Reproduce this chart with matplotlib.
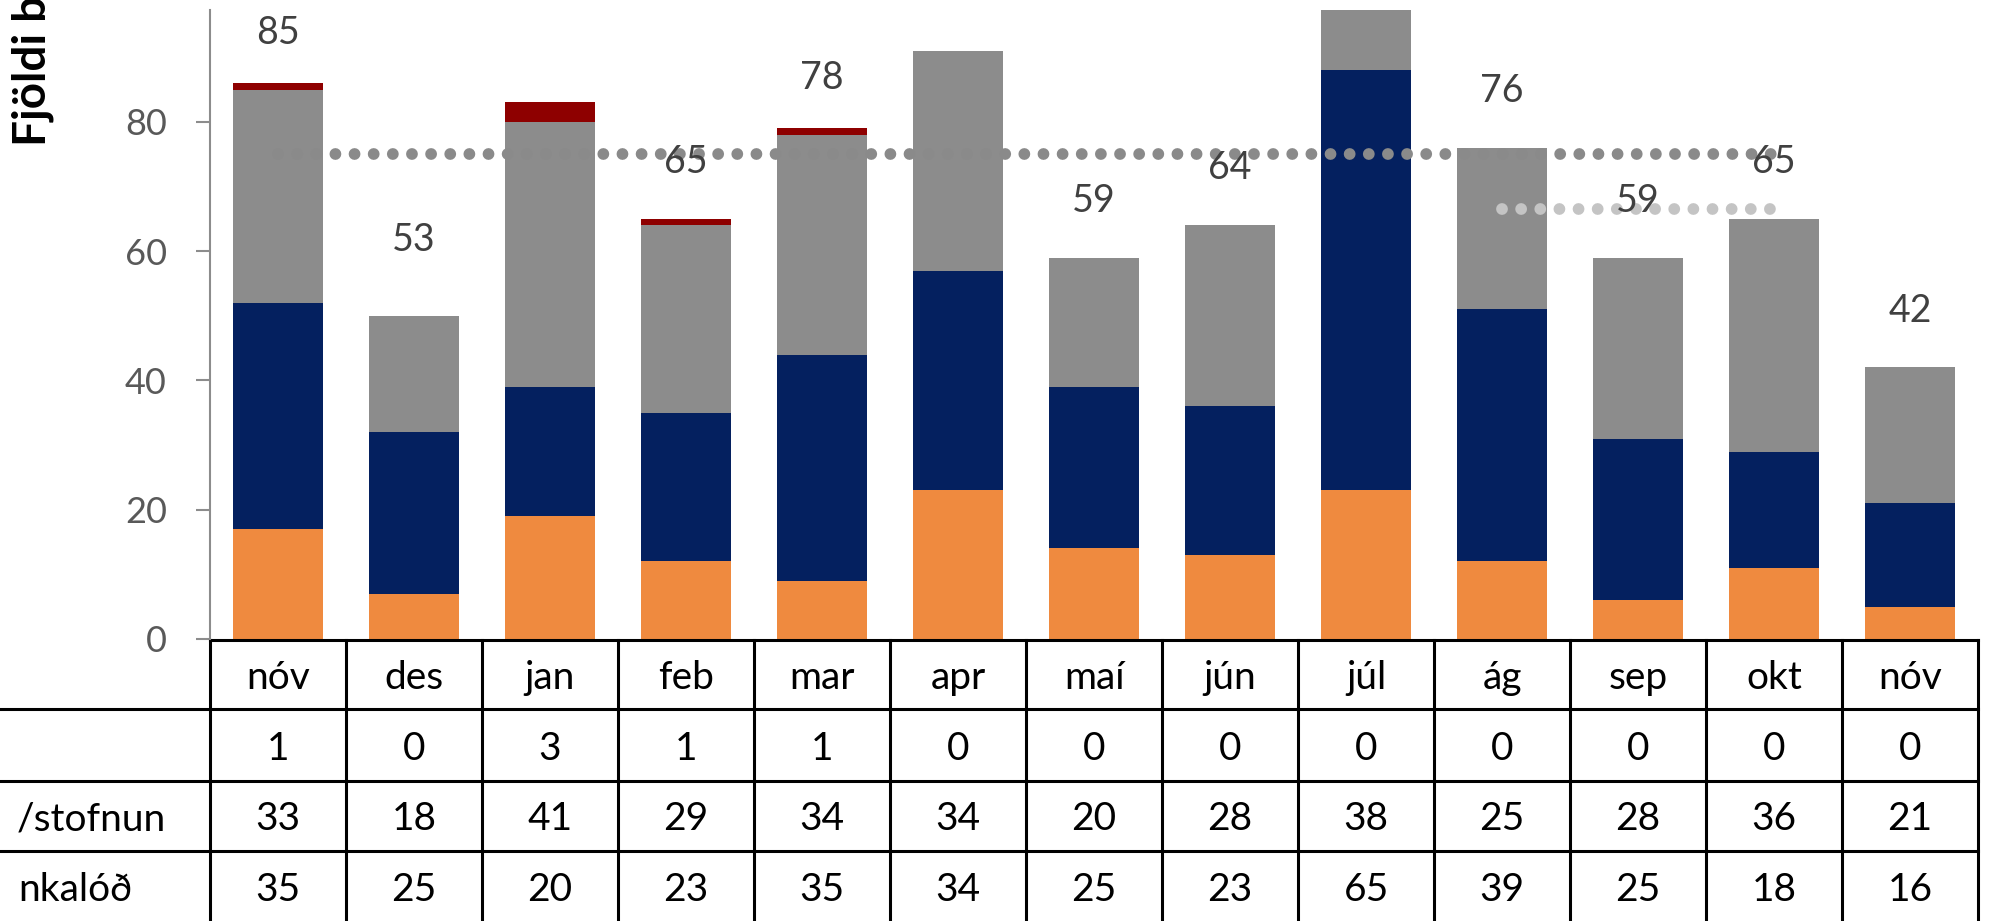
import numpy as np
import matplotlib.pyplot as plt
from matplotlib.transforms import blended_transform_factory

plt.rcParams['font.family'] = ['Lato', 'DejaVu Sans']

# data
months = ['nóv', 'des', 'jan', 'feb', 'mar', 'apr', 'maí', 'jún', 'júl', 'ág', 'sep', 'okt', 'nóv']
orange = [17, 7, 19, 12, 9, 23, 14, 13, 23, 12, 6, 11, 5]
navy = [35, 25, 20, 23, 35, 34, 25, 23, 65, 39, 25, 18, 16]
grey = [33, 18, 41, 29, 34, 34, 20, 28, 38, 25, 28, 36, 21]
red = [1, 0, 3, 1, 1, 0, 0, 0, 0, 0, 0, 0, 0]
top_labels = [85, 53, None, 65, 78, None, 59, 64, None, 76, 59, 65, 42]
avg_all = 75
avg_recent = 66.5

table_rows = [('', red), ('/stofnun', grey), ('nkalóð', navy)]
row_label_right = [0, 166, 132]   # px where the cut-off row names end

c_orange = '#EF8A3F'
c_navy = '#04205F'
c_grey = '#8C8C8C'
c_red = '#8E0000'

W, H = 1992, 921
fig = plt.figure(figsize=(W / 100, H / 100), dpi=100)
ax_left, ax_right, ax_top, ax_zero = 210, 1978, 10, 639
ax = fig.add_axes([ax_left / W, 1 - ax_zero / H, (ax_right - ax_left) / W, (ax_zero - ax_top) / H])

x = np.arange(len(months))
w = 0.655
b1 = np.array(orange)
b2 = b1 + np.array(navy)
b3 = b2 + np.array(grey)
ax.bar(x, orange, w, color=c_orange, zorder=2)
ax.bar(x, navy, w, bottom=b1, color=c_navy, zorder=2)
ax.bar(x, grey, w, bottom=b2, color=c_grey, zorder=2)
ax.bar(x, red, w, bottom=b3, color=c_red, zorder=2)

# dotted average lines
ax.plot([0, 11], [avg_all, avg_all], color='#8A8A8A', lw=8.5,
        linestyle=(0, (0.001, 1.62)), dash_capstyle='round', zorder=3)
ax.plot([9, 11], [avg_recent, avg_recent], color='#C4C4C4', lw=8.5,
        linestyle=(0, (0.001, 1.62)), dash_capstyle='round', zorder=3)

for i, v in enumerate(top_labels):
    if v is None:
        continue
    ax.annotate(str(v), (i, v), xytext=(0, 33), textcoords='offset points',
                ha='center', va='baseline', fontsize=27, color='#404040', zorder=4)

ax.set_xlim(-0.5, len(months) - 0.5)
ax.set_ylim(0, 97.3)
ax.set_yticks([0, 20, 40, 60, 80])
ax.tick_params(axis='y', length=10, width=1.5, color='#8C8C8C', pad=21,
               labelsize=26, labelcolor='#595959')
ax.set_xticks([])
for s in ['top', 'right', 'bottom']:
    ax.spines[s].set_visible(False)
ax.spines['left'].set_color('#8C8C8C')
ax.spines['left'].set_linewidth(1.5)

fig.text(33 / W, 1 - 146 / H, 'Fjöldi beiðna', rotation=90, ha='center', va='bottom',
         fontsize=33, fontweight='bold', color='black')

# data table under the chart
tr = blended_transform_factory(ax.transData, fig.transFigure)
row_lines = [640, 709, 781, 851, 921]
lw_t = 2.2
ax.plot([-0.5, 12.5], [1 - row_lines[0] / H] * 2, color='black', lw=lw_t, transform=tr, clip_on=False)
for yl in row_lines[1:4]:
    fig.add_artist(plt.Line2D([0, ax_right / W], [1 - yl / H] * 2, color='black', lw=lw_t))
for k in range(len(months) + 1):
    ax.plot([k - 0.5, k - 0.5], [1 - row_lines[0] / H, 0], color='black', lw=lw_t,
            transform=tr, clip_on=False)

centers = [(row_lines[i] + row_lines[i + 1]) / 2 for i in range(4)]
for i, m in enumerate(months):
    ax.text(i, 1 - centers[0] / H, m, transform=tr, ha='center', va='center_baseline',
            fontsize=28, color='black')
for r, (name, vals) in enumerate(table_rows):
    yc = 1 - centers[r + 1] / H
    for i, v in enumerate(vals):
        ax.text(i, yc, str(v), transform=tr, ha='center', va='center_baseline',
                fontsize=28, color='black')
    if name:
        fig.text(row_label_right[r] / W, yc, name, ha='right', va='center_baseline',
                 fontsize=28, color='black')

fig.savefig('out.png', dpi=100)
